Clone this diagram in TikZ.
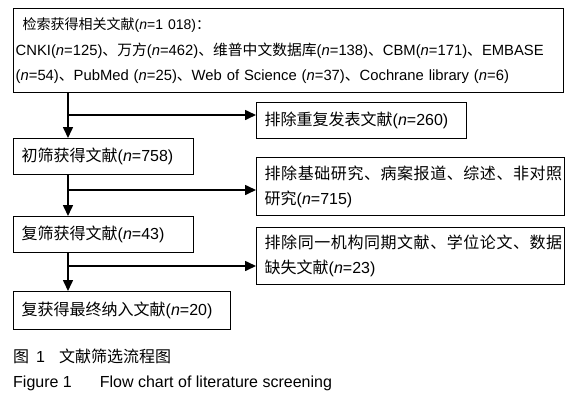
\documentclass[tikz,border=0pt]{standalone}
\usepackage{fontspec}
\setmainfont{Liberation Sans}
\newfontfamily\cjk{Noto Sans CJK SC}
\newfontfamily\cjkw[LetterSpace=3.5]{Noto Sans CJK SC}
\usetikzlibrary{arrows.meta}

\newcommand{\zh}[1]{{\cjk #1}}
\newcommand{\zhw}[1]{{\cjkw #1}}
\newcommand{\nn}{\textit{n}}

\begin{document}
\begin{tikzpicture}[x=1pt,y=-1pt,
  box/.style={draw,line width=1.4pt,anchor=north west,inner xsep=8pt,inner ysep=0pt,
    align=left,font=\fontsize{16}{25}\selectfont},
  flow/.style={line width=1.6pt,-{Triangle[length=11pt,width=10pt]}}]
  \useasboundingbox (0,0) rectangle (579,402);

  % main column of boxes
  \node[box,inner xsep=2pt,text width=546pt,minimum height=84pt,font=\fontsize{14.8}{25.5}\selectfont] (search) at (13,8)
    {\hspace*{7pt}{\fontsize{14}{25.5}\selectfont\zh{检索获得相关文献}(\nn=1~018)\zh{：}}\\
     CNKI(\nn=125)\zh{、万方}(\nn=462)\zh{、维普中文数据库}(\nn=138)\zh{、}CBM(\nn=171)\zh{、}EMBASE\\
     (\nn=54)\zh{、}PubMed (\nn=25)\zh{、}Web of Science (\nn=37)\zh{、}Cochrane library (\nn=6)};
  \node[box,text width=164pt,minimum height=36pt] (first) at (13,138)
    {\zh{初筛获得文献}(\nn=758)};
  \node[box,text width=164pt,minimum height=36pt] (second) at (13,216)
    {\zh{复筛获得文献}(\nn=43)};
  \node[box,text width=201pt,minimum height=38pt] (final) at (13,291)
    {\zh{复获得最终纳入文献}(\nn=20)};

  % excluded records on the right
  \node[box,minimum height=36pt,text width=194pt] (dup) at (256,102)
    {\zh{排除重复发表文献}(\nn=260)};
  \node[box,text width=292pt,minimum height=58pt] (basic) at (256,157)
    {\zhw{排除基础研究、病案报道、综述、非对照}\\\zh{研究}(\nn=715)};
  \node[box,text width=292pt,minimum height=57pt] (same) at (256,227)
    {\zhw{排除同一机构同期文献、学位论文、数据}\\\zh{缺失文献}(\nn=23)};

  % branch points on the trunk
  \coordinate (b1) at (68,115);
  \coordinate (b2) at (68,190);
  \coordinate (b3) at (68,266);

  \draw[flow] (search.south -| b1) -- (first.north -| b1);
  \draw[flow] (first.south -| b2) -- (second.north -| b2);
  \draw[flow] (second.south -| b3) -- (final.north -| b3);
  \draw[flow] (b1) -- (dup.west |- b1);
  \draw[flow] (b2) -- (basic.west |- b2);
  \draw[flow] (b3) -- (same.west |- b3);

  % caption
  \node[anchor=west,inner xsep=0pt,font=\fontsize{16}{18}\selectfont] (capzh) at (13,356)
    {\zh{图}\hspace{7pt}1\hspace{14pt}\zh{文献筛选流程图}};
  \node[anchor=west,inner xsep=0pt,font=\fontsize{16}{18}\selectfont] (capen) at (13,383)
    {Figure 1\hspace{28pt}Flow chart of literature screening};
\end{tikzpicture}
\end{document}
